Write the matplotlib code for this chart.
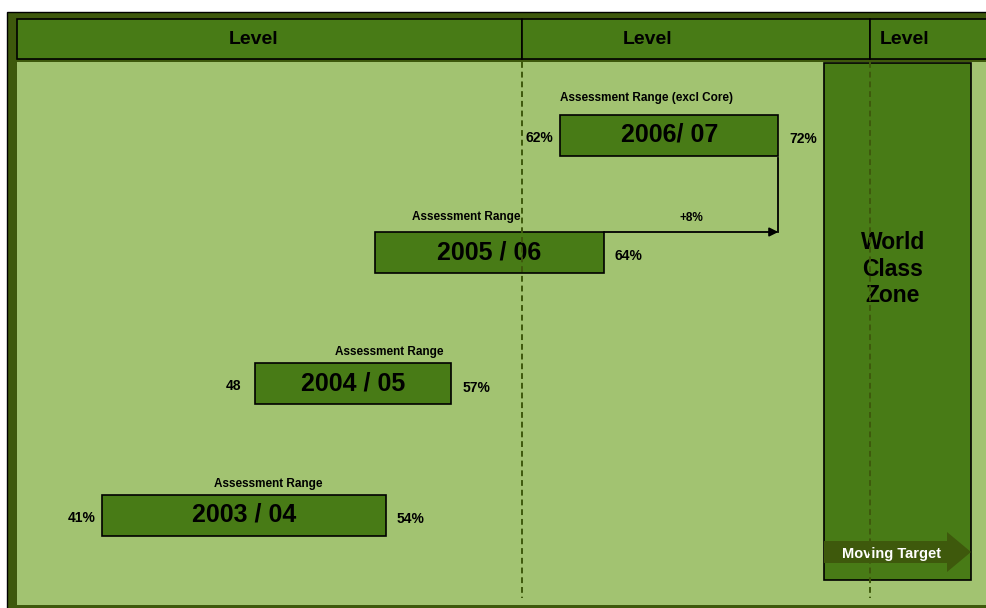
import matplotlib
matplotlib.use('Agg')
import matplotlib.pyplot as plt
from matplotlib.patches import Rectangle, FancyArrow
from matplotlib.transforms import blended_transform_factory

# ---------------- data ----------------
years = ['2003 / 04', '2004 / 05', '2005 / 06', '2006/ 07']
range_start = [41, 48, 53.5, 62]
range_end = [54, 57, 64, 72]
start_labels = ['41%', '48', '', '62%']
end_labels = ['54%', '57%', '64%', '72%']
range_titles = ['Assessment Range', 'Assessment Range',
                'Assessment Range', 'Assessment Range (excl Core)']
level_names = ['Level', 'Level', 'Level']

# ---------------- style ----------------
DARK = '#3E590C'
MID = '#487B16'
LIGHT = '#A2C371'
FONT = 'Liberation Sans'

W, H = 986, 608
PX_PER_PCT = 21.81
PCT_LEFT = 792 / PX_PER_PCT          # percent value at the left edge

row_y = [515, 383.5, 252.5, 135]     # bar centres, pixels from top
bar_h = 41
title_shift = [24, 36, -23, -23]     # title offset from bar centre, px
title_gap = [5, 5, 9, 10]            # gap between title and bar top, px

plt.rcParams['font.family'] = [FONT, 'DejaVu Sans']
plt.rcParams['font.weight'] = 'bold'

fig = plt.figure(figsize=(W / 100, H / 100), dpi=100)
fig.patch.set_facecolor('white')

# ---------------- background panel (pixel units) ----------------
bg = fig.add_axes([0, 0, 1, 1])
bg.set_xlim(0, W)
bg.set_ylim(H, 0)
bg.axis('off')

bg.add_patch(Rectangle((7, 12), 1000, 620, facecolor=DARK,
                       edgecolor='black', lw=1))
bg.add_patch(Rectangle((17, 62), 990, 543, facecolor=LIGHT, lw=0))

# header row
header_edges = [17, 522, 870, 1000]
header_text_x = [254, 648, 905]
for i, name in enumerate(level_names):
    x0, x1 = header_edges[i], header_edges[i + 1]
    bg.add_patch(Rectangle((x0, 19), x1 - x0, 40, facecolor=MID,
                           edgecolor='black', lw=1.2))
    bg.text(header_text_x[i], 40, name, ha='center', va='center',
            fontsize=14, color='black')

# world class zone
bg.add_patch(Rectangle((824, 63), 147, 517, facecolor=MID,
                       edgecolor='black', lw=1.2))
bg.text(893, 269, 'World\nClass\nZone', ha='center', va='center',
        fontsize=16.5, linespacing=1.2, color='black')
bg.add_patch(FancyArrow(824, 552, 147, 0, width=22, head_width=40,
                        head_length=24, length_includes_head=True,
                        color=DARK, lw=0))
bg.text(891, 554, 'Moving Target', ha='center', va='center',
        fontsize=10.5, color='white')

# ---------------- assessment ranges (percent on x) ----------------
ax = fig.add_axes([0, 0, 1, 1])
ax.patch.set_alpha(0)
ax.set_xlim(PCT_LEFT, PCT_LEFT + W / PX_PER_PCT)
ax.set_ylim(H, 0)
ax.axis('off')

for i, yr in enumerate(years):
    s, e, y = range_start[i], range_end[i], row_y[i]
    ax.barh(y, e - s, left=s, height=bar_h, color=MID,
            edgecolor='black', lw=1.2, zorder=3)
    ax.text((s + e) / 2, y, yr, ha='center', va='center',
            fontsize=18, color='black', zorder=4)
    ax.annotate(range_titles[i], xy=((s + e) / 2, y - bar_h / 2),
                xytext=(title_shift[i], title_gap[i]),
                textcoords='offset pixels',
                ha='center', va='bottom', fontsize=8.5, zorder=4)
    if start_labels[i]:
        ax.annotate(start_labels[i], xy=(s, y), xytext=(-21, -3),
                    textcoords='offset pixels', ha='center', va='center',
                    fontsize=10, zorder=5)
    ax.annotate(end_labels[i], xy=(e, y), xytext=(25, -4),
                textcoords='offset pixels', ha='center', va='center',
                fontsize=10, zorder=5)

# step from 2005/06 to 2006/07
top_prev = row_y[2] - bar_h / 2
bot_last = row_y[3] + bar_h / 2
ax.plot([range_end[3], range_end[3]], [bot_last + 2, top_prev],
        color='black', lw=1.3, zorder=5)
ax.annotate('', xy=(range_end[3], top_prev), xytext=(range_end[2], top_prev),
            arrowprops=dict(arrowstyle='-|>', color='black', lw=1.3,
                            mutation_scale=13, shrinkA=0, shrinkB=0),
            zorder=5)
gain = range_end[3] - range_end[2]
ax.text((range_end[2] + range_end[3]) / 2, top_prev - 14, f'+{gain:g}%',
        ha='center', va='center', fontsize=8.5, zorder=5)

# level boundaries, drawn on top of everything
blend = blended_transform_factory(ax.transAxes, ax.transData)
for px in (522, 870):
    ax.plot([px / W, px / W], [62, 598], transform=blend, color=DARK,
            lw=1.4, ls=(0, (3, 2)), zorder=10)

fig.savefig('out.png', dpi=100)
